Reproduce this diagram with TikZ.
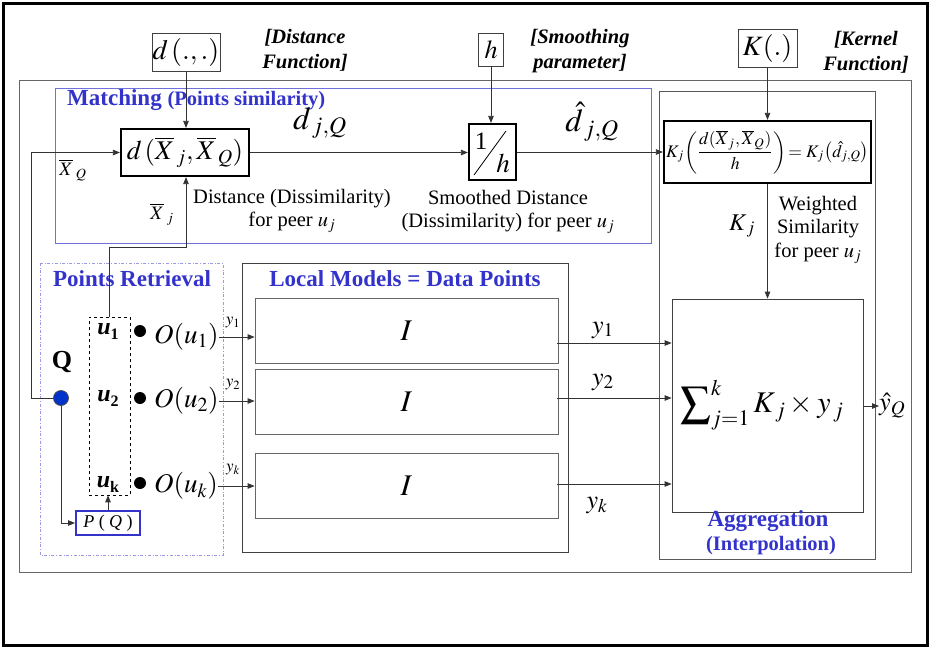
\documentclass[tikz,border=0pt]{standalone}
\usepackage{mathptmx}
\usepackage[no-math]{fontspec}
\setmainfont{Liberation Serif}
\usetikzlibrary{arrows.meta,calc}
\definecolor{hblue}{RGB}{51,51,204}
\definecolor{qblue}{RGB}{0,51,204}
\newcommand\myfs[1]{\fontsize{#1}{#1}\selectfont}
\tikzset{
  box/.style={draw=black!75, line width=0.8pt, inner sep=0pt},
  thickbox/.style={draw=black, line width=2.2pt, inner sep=0pt},
  arr/.style={draw=black!80, line width=0.8pt, -{Triangle[length=7pt,width=5.5pt]}},
  lbl/.style={inner sep=0pt},
  para/.style={inner sep=0pt, align=center, font=\fontsize{20.5}{23.5}\selectfont},
  note/.style={inner sep=0pt, align=center, font=\fontsize{20.5}{25}\selectfont\bfseries\itshape},
  head/.style={inner sep=0pt, text=hblue, font=\bfseries},
  bullet/.style={circle, fill=black, minimum size=12pt, inner sep=0pt},
}
\begin{document}
\begin{tikzpicture}[x=1pt,y=-1pt]
\path[use as bounding box] (0,0) rectangle (933,648);
% frames
\draw[line width=2.5pt] (3.5,3.5) rectangle (927.5,645.5);
\draw[black!60, line width=1pt] (19,80) rectangle (911,572);
\draw[hblue!70, line width=0.7pt] (55,88) rectangle (651,243);
\draw[hblue!50, dash dot, line width=0.7pt] (40,263) rectangle (223,555);
\node[box, draw=black!65, minimum width=216pt, minimum height=468pt] (agg) at (767,325) {};
\node[box, minimum width=326pt, minimum height=289pt] (lm) at (405,407.5) {};

% top inputs
\node[box, minimum width=68pt, minimum height=38pt] (dfun) at (186,52) {\myfs{28}$d\,(.,.)$};
\node[box, minimum width=25pt, minimum height=33pt] (hfun) at (491,49.5) {\myfs{26}$h$};
\node[box, minimum width=59pt, minimum height=38pt] (kfun) at (767.5,48) {\myfs{28}$K(.)$};
\node[note] (n1) at (305,50) {[Distance\\Function]};
\node[note] (n2) at (580,51) {[Smoothing\\parameter]};
\node[note] (n3) at (866,52) {[Kernel\\Function]};

% matching
\node[head, anchor=west] (mh) at (67,100) {\myfs{23}Matching \myfs{20.5}(Points similarity)};
\node[thickbox, minimum width=128pt, minimum height=47pt] (dist) at (185,152.5) {\myfs{27}$d\,(\overline{X}_{\,j},\overline{X}_{\,Q})$};
\node[thickbox, minimum width=47pt, minimum height=56pt] (inv) at (492.5,152) {};
\node[lbl] (one) at (481,141) {\myfs{25}1};
\node[lbl] (hh) at (503,163) {\myfs{27}$h$};
\draw[line width=0.8pt] (474,175) -- (506,131);
\node[thickbox, minimum width=207pt, minimum height=62pt] (kbox) at (767.5,152)
  {\resizebox{203pt}{!}{$K_{j}\!\left(\displaystyle\frac{d(\overline{X}_{j},\overline{X}_{Q})}{h}\right)\!=K_{j}\!\left(\hat d_{j,Q}\right)$}};

\node[lbl] (djq) at (320,123) {\myfs{32}$d_{\,j,Q}$};
\node[lbl] (dhjq) at (592,122) {\myfs{32}$\hat d_{\,j,Q}$};
\node[lbl] (xq) at (73,170) {\myfs{19}$\overline{X}_{\;Q}$};
\node[lbl] (xj) at (162,214) {\myfs{19}$\overline{X}_{\;j}$};
\node[para] (t1) at (292,211) {Distance (Dissimilarity)\\for peer $u_j$};
\node[para] (t2) at (508,212) {Smoothed Distance\\(Dissimilarity) for peer $u_j$};
\node[para] (t3) at (818,230) {Weighted\\Similarity\\for peer $u_j$};
\node[lbl] (kj) at (742,226) {\myfs{24}$K_{\,j}$};

% points retrieval
\node[head] (prh) at (132,279) {\myfs{23}Points Retrieval};
\node[head] (lmh) at (405,279) {\myfs{23}Local Models = Data Points};
\node[lbl] (ql) at (62,362) {\myfs{26}\bfseries Q};
\node[circle, fill=qblue, draw=black!70, line width=0.8pt, minimum size=15pt, inner sep=0pt] (Q) at (61,398) {};
\node[draw, dashed, line width=0.6pt, minimum width=41pt, minimum height=178pt, inner sep=0pt] (ubox) at (109.5,406) {};
\node[lbl] (u1) at (108,331) {{\myfs{24}\textbf{\textit{u}}}\raisebox{-5pt}{\myfs{16}\textbf{1}}};
\node[lbl] (u2) at (108,398) {{\myfs{24}\textbf{\textit{u}}}\raisebox{-5pt}{\myfs{16}\textbf{2}}};
\node[lbl] (uk) at (108,484) {{\myfs{24}\textbf{\textit{u}}}\raisebox{-5pt}{\myfs{16}\textbf{k}}};
\node[bullet] (b1) at (140,331) {};
\node[bullet] (b2) at (140,398) {};
\node[bullet] (b3) at (140,483) {};
\node[lbl, anchor=west] (o1) at (154,337) {\myfs{27}$O(u_1)$};
\node[lbl, anchor=west] (o2) at (154,401) {\myfs{27}$O(u_2)$};
\node[lbl, anchor=west] (o3) at (154,486) {\myfs{27}$O(u_k)$};
\node[draw=hblue, line width=2pt, minimum width=64pt, minimum height=24pt, inner sep=0pt] (pq) at (108,523) {\myfs{18}\textit{P} ( \textit{Q} )};

% local models
\node[box, draw=black!60, minimum width=303pt, minimum height=65pt] (i1) at (406.5,330.5) {\myfs{30}$I$};
\node[box, draw=black!60, minimum width=303pt, minimum height=65pt] (i2) at (406.5,401.5) {\myfs{30}$I$};
\node[box, draw=black!60, minimum width=303pt, minimum height=65pt] (i3) at (406.5,485.5) {\myfs{30}$I$};
\node[lbl] (sy1) at (233,323) {\myfs{17}$y_1$};
\node[lbl] (sy2) at (233,385) {\myfs{17}$y_2$};
\node[lbl] (sy3) at (233,470) {\myfs{17}$y_k$};
\node[lbl] (by1) at (603,330) {\myfs{26}$y_1$};
\node[lbl] (by2) at (603,382) {\myfs{26}$y_2$};
\node[lbl] (by3) at (597,505) {\myfs{26}$y_k$};

% aggregation
\node[box, minimum width=191pt, minimum height=213pt] (sum) at (767.5,405.5) {};
\node[lbl] (sumf) at (762,405) {\myfs{30}$\displaystyle\sum\nolimits_{j=1}^{k}K_{\,j}\times y_{\,j}$};
\node[lbl, anchor=west] (yhat) at (879,406) {\myfs{26}$\hat y_Q$};
\node[head] (ah1) at (768,521) {\myfs{23}Aggregation};
\node[head] (ah2) at (771,546) {\myfs{20.5}(Interpolation)};

% connectors
\coordinate (qc) at (31,398);
\coordinate (xjc) at (186,247);
\coordinate (e1) at (557,343);
\coordinate (e2) at (557,398);
\coordinate (e3) at (557,484);
\draw[arr] (dfun.south) -- (dfun.south |- dist.north);
\draw[arr] (Q.west) -- (qc) |- (dist.west);
\draw[arr] (ubox.north) |- (xjc) -- (xjc |- dist.south);
\draw[arr] (Q.south) |- (pq.west);
\draw[arr] (pq.north) -- (pq.north |- ubox.south);
\draw[arr] (dist.east) -- (dist.east -| inv.west);
\draw[arr] (hfun.south) -- (hfun.south |- inv.north);
\draw[arr] (inv.east) -- (inv.east -| kbox.west);
\draw[arr] (kfun.south) -- (kbox.north);
\draw[arr] (kbox.south) -- (sum.north);
\draw[arr] (o1.east) -- (o1.east -| i1.west);
\draw[arr] (o2.east) -- (o2.east -| i2.west);
\draw[arr] (o3.east) -- (o3.east -| i3.west);
\draw[arr] (e1) -- (e1 -| sum.west);
\draw[arr] (e2) -- (e2 -| sum.west);
\draw[arr] (e3) -- (e3 -| sum.west);
\draw[arr] (sum.east |- yhat.west) -- (yhat.west);
\end{tikzpicture}
\end{document}
